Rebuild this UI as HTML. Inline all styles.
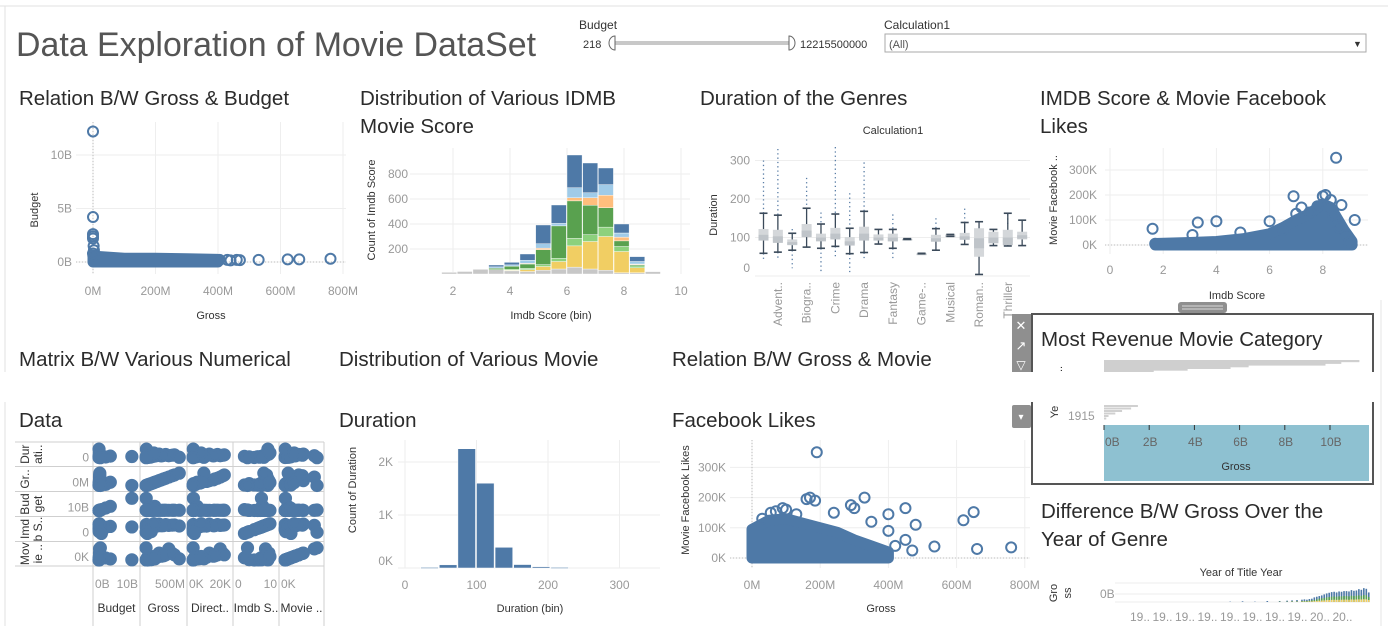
<!DOCTYPE html>
<html><head><meta charset="utf-8"><style>
html,body{margin:0;padding:0;background:#fff;}
svg{display:block;font-family:"Liberation Sans",sans-serif;}
</style></head><body>
<svg id="dash" width="1388" height="626" viewBox="0 0 1388 626" xmlns="http://www.w3.org/2000/svg">
<rect x="0" y="0" width="1388" height="626" fill="#fff"/>
<line x1="0" y1="6" x2="1388" y2="6" stroke="#e2e2e2"/>
<line x1="5" y1="6" x2="5" y2="626" stroke="#e2e2e2"/>
<text x="16" y="56" font-size="34" fill="#555" textLength="520" lengthAdjust="spacingAndGlyphs">Data Exploration of Movie DataSet</text>
<g>
<text x="579" y="29" font-size="12" fill="#333">Budget</text>
<text x="583" y="48" font-size="11" fill="#333">218</text>
<rect x="612" y="41" width="180" height="4" fill="#c8c8c8"/>
<path d="M615 36 A6 7 0 0 0 615 50 Z" fill="#fff" stroke="#666"/>
<path d="M789 36 A6 7 0 0 1 789 50 Z" fill="#fff" stroke="#666"/>
<text x="800" y="48" font-size="11" fill="#333">12215500000</text>
</g>
<g>
<text x="884" y="29" font-size="12" fill="#333">Calculation1</text>
<rect x="885" y="34" width="481" height="18" fill="#fff" stroke="#aaa"/>
<text x="889" y="48" font-size="11" fill="#555">(All)</text>
<text x="1353" y="47" font-size="9" fill="#333">▼</text>
</g>
<g id="g"></g>
</svg>
<script>
// ---------- data ----------
// Chart 1: Gross (M) vs Budget (B)
const c1Gross = [0,0,0,0,0,3,0,530,623,660,760,460,430,470,405,440,2,1];
const c1Budget = [12.2,4.2,2.6,2.4,2.2,1.1,0.8,0.2,0.25,0.25,0.3,0.2,0.2,0.18,0.2,0.15,1.5,0.6];
const c1BandGross = [0,100,200,300,400];
const c1BandTop = [0.55,0.35,0.35,0.3,0.25];
// Chart 2: IMDB histogram (bin start, width 0.55) stacked
const c2Bins = [1.6,2.15,2.7,3.25,3.8,4.35,4.9,5.45,6.0,6.55,7.1,7.65,8.2,8.75];
const c2Gray = [13,20,37,35,25,20,30,40,55,40,30,10,10,19];
const c2Yellow = [0,0,0,0,5,15,30,60,170,220,270,170,40,0];
const c2LightGreen = [0,0,0,0,8,10,15,25,60,55,75,40,15,0];
const c2Green = [0,0,0,12,25,35,120,260,300,235,155,45,10,0];
const c2Orange = [0,0,0,0,0,5,12,0,25,60,100,30,5,0];
const c2LightBlue = [0,0,0,10,10,25,35,20,80,40,85,33,20,0];
const c2Blue = [0,0,0,15,20,50,150,147,262,238,133,72,39,0];
const c2Ticks = [2,4,6,8,10];
const c2YTicks = [200,400,600,800];
// Chart 3: duration box plots
const c3Genres = ["Action","Adventure","Animation","Biography","Comedy","Crime","Documentary","Drama","Family","Fantasy","Film-Noir","Game-Show","History","Musical","Mystery","Romance","Sci-Fi","Thriller","Western"];
const c3Labels = ["","Advent..","","Biogra..","","Crime","","Drama","","Fantasy","","Game-..","","Musical","","Roman..","","Thriller",""];
const c3Low = [59,62,67,75,72,77,58,61,83,72,95,58,67,103,82,4,79,78,79];
const c3Q1 = [97,90,80,105,93,100,83,98,95,90,95,58,90,103,95,50,90,88,95];
const c3Med = [107,103,88,118,100,110,90,110,100,100,96,58,98,105,103,98,100,100,106];
const c3Q3 = [122,120,95,135,110,125,101,128,108,110,97,59,107,108,112,124,115,120,115];
const c3High = [163,158,111,176,135,161,124,168,121,121,97,59,123,108,139,141,121,163,145];
const c3OutHigh = [300,330,122,255,165,335,215,295,0,160,0,0,150,0,175,0,0,135,0];
const c3OutLow = [40,40,20,0,10,50,10,40,0,40,0,0,0,0,0,0,0,0,0];
const c3YTicks = [0,100,200,300];
// Chart 4: IMDB score vs movie FB likes (K)
const c4Imdb = [1.6,1.7,3.3,4.0,3.1,8.5,6.9,8.0,8.1,8.3,9.2,8.9,9.0,7.2,7.8,6.0,7.5,8.6,4.9,6.5,8.4,8.7,7.0];
const c4Likes = [65,5,90,95,40,349,195,195,200,180,100,40,10,150,155,95,130,70,50,60,120,160,125];
const c4BandImdb = [1.7,3,4,5,6,6.5,7,7.5,8,8.3,8.8,9.1];
const c4BandTop = [6,10,14,25,45,70,100,125,165,150,60,15];
const c4XTicks = [0,2,4,6,8];
const c4YTicks = [0,100,200,300];
// Matrix data (duration, grossM, budgetB, directorK, imdb, movieK)
const mDuration = [120,95,110,140,100,130,88,160,105,115,80,125,98,300,92,170,135,150,85,110,200,75];
const mGross = [350,60,150,600,20,250,90,450,5,200,35,520,120,10,70,300,400,650,760,30,180,1];
const mBudget = [0.2,0.03,0.1,0.25,0.01,0.15,0.05,0.3,12.2,4.2,0.02,0.2,0.06,0.01,2.5,0.18,0.22,0.26,0.3,0.9,0.12,0.5];
const mDirector = [15,0.5,5,22,0.2,10,1,18,0.3,3,0.1,20,0.4,0.2,2,12,16,23,8,1,6,0.1];
const mImdb = [7.5,6.2,6.8,8.0,5.5,7.2,6.0,8.4,6.6,7.0,4.5,7.8,3.0,8.5,6.4,8.8,7.6,8.1,7.3,1.6,9.1,2.5];
const mMovie = [110,10,40,190,2,80,20,150,5,30,1,320,8,3,60,200,120,150,35,65,100,349];
// Chart 6: duration histogram
const c6Bins = [22,48,74,100,126,152,178,204];
const c6Counts = [10,60,2250,1600,390,65,25,10];
const c6XTicks = [0,100,200,300];
const c6YTicks = [0,1000,2000];
const c6YLabels = ["0K","1K","2K"];
// Chart 7: gross (M) vs movie FB likes (K)
const c7Gross = [190,160,170,185,330,290,300,450,400,240,55,100,620,650,535,660,760,480,450,400,470,350,420,90,130,70,30];
const c7Likes = [350,195,200,190,200,175,165,165,145,150,150,160,125,152,38,30,35,110,60,90,25,120,40,165,145,155,130];
const c7BandGross = [0,50,100,150,200,250,300,350,400];
const c7BandTop = [95,125,130,115,100,85,60,40,20];
const c7XTicks = [0,200,400,600,800];
const c7YTicks = [0,100,200,300];
// Panel: most revenue
const pTopBars = [11.3,10.5,9.8,6.4,5.6,3.7,2.2];
const pLowBars = [1.5,1.2,0.8,0.5,0.2,0.1];
const pTicks = [0,2,4,6,8,10];
// Year chart
const yYears = [1960,1965,1970,1975,1980,1983,1985,1987,1989,1990,1991,1992,1993,1994,1995,1996,1997,1998,1999,2000,2001,2002,2003,2004,2005,2006,2007,2008,2009,2010,2011,2012,2013,2014,2015,2016];
const yBlue = [0.1,0.2,0.1,0.3,0.3,0.4,0.5,0.6,0.7,0.8,0.7,0.9,1.0,1.4,1.6,1.8,2.0,2.3,2.6,2.8,3.0,3.1,2.9,3.2,3.1,3.3,3.3,3.2,3.6,3.4,3.5,3.9,3.7,4.2,4.0,2.9];
const yMix = [0,0,0,0,0.1,0.1,0.2,0.2,0.3,0.3,0.3,0.4,0.5,0.6,0.8,1.0,1.1,1.2,1.4,1.5,1.6,1.7,1.6,1.7,1.7,1.8,1.8,1.7,1.9,1.8,1.9,2.0,1.9,2.1,2.0,1.5];
const yTickLabels = ["19..","19..","19..","19..","19..","19..","19..","19..","20..","20.."];

// ---------- helpers ----------
const NS = "http://www.w3.org/2000/svg";
const root = document.getElementById("g");
function mk(tag, attrs, name, inter, parent) {
  const el = document.createElementNS(NS, tag);
  for (const k in attrs) el.setAttribute(k, attrs[k]);
  
  
  (parent || root).appendChild(el);
  return el;
}
function txt(x, y, s, size, fill, name, anchor, rot, weight) {
  const a = {x: x, y: y, "font-size": size, fill: fill, "text-anchor": anchor || "start"};
  if (rot) a.transform = "rotate(" + rot + " " + x + " " + y + ")";
  if (weight) a["font-weight"] = weight;
  const t = mk("text", a, name, false);
  t.textContent = s;
  return t;
}
function lin(x1, y1, x2, y2, stroke, name, w, dash) {
  const a = {x1: x1, y1: y1, x2: x2, y2: y2, stroke: stroke, "stroke-width": w || 1};
  if (dash) a["stroke-dasharray"] = dash;
  return mk("line", a, name, false);
}
const BLUE = "#4e79a7", GRID = "#eeeeee", TICK = "#999", TITLE = "#333";
function title(x, y, s, name) { return txt(x, y, s, 20.5, "#2b2b2b", name); }

// ---------- Chart 1 ----------
title(19, 105, "Relation B/W Gross & Budget", "gross-budget-title");
(function(){
  const xs = v => 93 + v * 0.3125, ys = v => 262 - v * 10.7;
  [0,200,400,600,800].forEach(v => lin(xs(v), 122, xs(v), 274, GRID, "gridline-x"));
  [0,5,10].forEach(v => lin(76, ys(v), 346, ys(v), GRID, "gridline-y"));
  lin(xs(0), 122, xs(0), 274, "#bbb", "zero-line-x", 1, "1,2");
  lin(76, ys(0), 346, ys(0), "#bbb", "zero-line-y", 1, "1,2");
  [0,200,400,600,800].forEach(v => txt(xs(v), 295, v + "M", 12, TICK, "x-tick-label", "middle"));
  [0,5,10].forEach(v => txt(72, ys(v) + 4, v + "B", 12, TICK, "y-tick-label", "end"));
  txt(211, 319, "Gross", 11, TITLE, "x-axis-title", "middle");
  txt(38, 210, "Budget", 11, TITLE, "y-axis-title", "middle", -90);
  let d = "M" + xs(c1BandGross[0]) + " " + ys(0);
  c1BandGross.forEach((g, i) => d += " L" + xs(g) + " " + ys(c1BandTop[i]));
  d += " L" + xs(c1BandGross[c1BandGross.length - 1]) + " " + ys(0) + " Z";
  mk("path", {d: d, fill: BLUE, stroke: BLUE, "stroke-width": 11, "stroke-linejoin": "round"}, "dense-point-cluster", false);
  c1Gross.forEach((g, i) => {
    mk("circle", {cx: xs(g), cy: ys(c1Budget[i]), r: 5, fill: "none", stroke: BLUE, "stroke-width": 2}, "scatter-point", true);
  });
})();

// ---------- Chart 2 ----------
title(360, 105, "Distribution of Various IDMB", "imdb-hist-title");
title(360, 133, "Movie Score", "imdb-hist-title-line2");
(function(){
  const xs = v => 396 + v * 28.5, ys = v => 274 - v * 0.125;
  c2Ticks.forEach(v => lin(xs(v), 148, xs(v), 274, GRID, "gridline-x"));
  c2YTicks.forEach(v => lin(410, ys(v), 690, ys(v), GRID, "gridline-y"));
  c2Ticks.forEach(v => txt(xs(v), 295, String(v), 12, TICK, "x-tick-label", "middle"));
  c2YTicks.forEach(v => txt(408, ys(v) + 4, String(v), 12, TICK, "y-tick-label", "end"));
  txt(551, 319, "Imdb Score (bin)", 11, TITLE, "x-axis-title", "middle");
  txt(375, 210, "Count of Imdb Score", 11, TITLE, "y-axis-title", "middle", -90);
  const series = [[c2Gray,"#c7c7c7"],[c2Yellow,"#f1ce63"],[c2LightGreen,"#8cd17d"],[c2Green,"#59a14f"],[c2Orange,"#ffbe7d"],[c2LightBlue,"#a0cbe8"],[c2Blue,BLUE]];
  c2Bins.forEach((b, i) => {
    let acc = 0;
    series.forEach(s => {
      const v = s[0][i]; if (!v) return;
      mk("rect", {x: xs(b), y: ys(acc + v), width: 0.55 * 28.5 - 0.6, height: v * 0.125, fill: s[1], stroke: "#fff", "stroke-width": 0.4}, "hist-bar-segment", true);
      acc += v;
    });
  });
})();

// ---------- Chart 3 ----------
title(700, 105, "Duration of the Genres", "genre-duration-title");
txt(893, 134, "Calculation1", 11, TITLE, "column-header", "middle");
(function(){
  const xs = i => 763.5 + i * 14.37, ys = v => 276 - v * 0.385;
  c3YTicks.forEach(v => lin(755, ys(v), 1030, ys(v), GRID, "gridline-y"));
  c3YTicks.forEach(v => txt(750, Math.min(ys(v), 268) + 4, String(v), 12, TICK, "y-tick-label", "end"));
  txt(717, 215, "Duration", 11, TITLE, "y-axis-title", "middle", -90);
  c3Labels.forEach((l, i) => { if (l) txt(xs(i) + 4, 282, l, 12, "#999", "x-tick-label", "end", -90); });
  c3Genres.forEach((g, i) => {
    const x = xs(i);
    if (c3OutHigh[i]) lin(x, ys(c3OutHigh[i]), x, ys(c3High[i]), "#5a7ea6", "outliers-high", 1.3, "1.3,3");
    if (c3OutLow[i]) lin(x, ys(c3Low[i]), x, ys(c3OutLow[i]), "#5a7ea6", "outliers-low", 1.3, "1.3,3");
    lin(x, ys(c3High[i]), x, ys(c3Low[i]), "#3b4a5a", "whisker", 1.3);
    mk("rect", {x: x - 5, y: ys(c3Q3[i]), width: 10, height: Math.max(1.5, (c3Q3[i] - c3Q1[i]) * 0.385), fill: "#d4d7da"}, "box-" + g.toLowerCase(), true);
    mk("rect", {x: x - 5, y: ys(c3Med[i]), width: 10, height: Math.max(1.5, (c3Q3[i] - c3Med[i]) * 0.385), fill: "#bfc4c9"}, "box-upper-half", false);
    lin(x - 4, ys(c3High[i]), x + 4, ys(c3High[i]), "#3b4a5a", "whisker-cap", 1.6);
    lin(x - 4, ys(c3Low[i]), x + 4, ys(c3Low[i]), "#3b4a5a", "whisker-cap", 1.6);
  });
})();

// ---------- Chart 4 ----------
title(1040, 105, "IMDB Score & Movie Facebook", "imdb-likes-title");
title(1040, 133, "Likes", "imdb-likes-title-line2");
(function(){
  const xs = v => 1110 + v * 26.6, ys = v => 245 - v * 0.25;
  c4XTicks.forEach(v => lin(xs(v), 148, xs(v), 254, GRID, "gridline-x"));
  c4YTicks.forEach(v => lin(1105, ys(v), 1368, ys(v), GRID, "gridline-y"));
  lin(1105, ys(0), 1368, ys(0), "#bbb", "zero-line", 1, "1,2");
  c4XTicks.forEach(v => txt(xs(v), 274, String(v), 12, TICK, "x-tick-label", "middle"));
  c4YTicks.forEach(v => txt(1097, ys(v) + 4, v + "K", 12, TICK, "y-tick-label", "end"));
  txt(1237, 299, "Imdb Score", 11, TITLE, "x-axis-title", "middle");
  txt(1057, 200, "Movie Facebook ..", 11, TITLE, "y-axis-title", "middle", -90);
  let d = "M" + xs(c4BandImdb[0]) + " " + ys(0);
  c4BandImdb.forEach((g, i) => d += " L" + xs(g) + " " + ys(c4BandTop[i]));
  d += " L" + xs(c4BandImdb[c4BandImdb.length - 1]) + " " + ys(0) + " Z";
  mk("path", {d: d, fill: BLUE, stroke: BLUE, "stroke-width": 11, "stroke-linejoin": "round"}, "dense-point-cluster", false);
  c4Imdb.forEach((v, i) => mk("circle", {cx: xs(v), cy: ys(c4Likes[i]), r: 5, fill: "none", stroke: BLUE, "stroke-width": 2}, "scatter-point", true));
})();

// ---------- Matrix ----------
title(19, 366, "Matrix B/W Various Numerical", "matrix-title");
title(19, 427, "Data", "matrix-title-line2");
(function(){
  const colX = [93,140,187,233,279,324], rowY = [442,466.5,491.5,516.5,541.5,566];
  const rowVars = [[mDuration,0,330],[mGross,0,800],[mBudget,0,13],[mImdb,0,10],[mMovie,0,360]];
  const colVars = [[mBudget,0,13],[mGross,0,800],[mDirector,0,25],[mImdb,0,10],[mMovie,0,360]];
  const rowNames = [["Dur","ati.."],["Gr..",""],["Bud","get"],["Imd","b S.."],["Mov","ie .."]];
  const rowTicks = ["0","0M","10B","0","0K"];
  const colTicks = [["0B","10B"],["","500M"],["0K","20K"],["0","10"],["0K",""]];
  const colNames = ["Budget","Gross","Direct..","Imdb S..","Movie .."];
  rowY.forEach(y => lin(15, y, 324, y, "#cfcfcf", "matrix-row-line"));
  colX.forEach(x => lin(x, 442, x, 626, "#cfcfcf", "matrix-col-line"));
  rowNames.forEach((n, r) => {
    const cy = (rowY[r] + rowY[r + 1]) / 2;
    txt(29, cy, n[0], 12, TITLE, "matrix-row-label", "middle", -90);
    txt(42, cy, n[1], 12, TITLE, "matrix-row-label", "middle", -90);
    txt(89, rowY[r + 1] - 5, rowTicks[r], 12, TICK, "matrix-row-tick", "end");
  });
  colNames.forEach((n, c) => {
    txt((colX[c] + colX[c + 1]) / 2, 612, n, 12, TITLE, "matrix-col-label", "middle");
    txt(colX[c] + 2, 588, colTicks[c][0], 12, TICK, "matrix-col-tick");
    txt(colX[c + 1] - 2, 588, colTicks[c][1], 12, TICK, "matrix-col-tick", "end");
  });
  for (let r = 0; r < 5; r++) for (let c = 0; c < 5; c++) {
    const x0 = colX[c] + 6, x1 = colX[c + 1] - 6, y0 = rowY[r + 1] - 6, y1 = rowY[r] + 6;
    const cv = colVars[c], rv = rowVars[r];
    cv[0].forEach((v, i) => {
      const px = x0 + (v - cv[1]) / (cv[2] - cv[1]) * (x1 - x0);
      const py = y0 - (rv[0][i] - rv[1]) / (rv[2] - rv[1]) * (y0 - y1);
      mk("circle", {cx: px, cy: py, r: 5.5, fill: BLUE, stroke: BLUE, "stroke-width": 2.2}, "matrix-point", true);
    });
  }
})();

// ---------- Chart 6 ----------
title(339, 366, "Distribution of Various Movie", "duration-hist-title");
title(339, 427, "Duration", "duration-hist-title-line2");
(function(){
  const xs = v => 405 + v * 0.715, ys = v => 568 - v * 0.053;
  c6XTicks.forEach(v => lin(xs(v), 440, xs(v), 568, GRID, "gridline-x"));
  c6YTicks.forEach(v => lin(398, ys(v), 660, ys(v), GRID, "gridline-y"));
  c6XTicks.forEach(v => txt(xs(v), 589, String(v), 12, TICK, "x-tick-label", "middle"));
  c6YTicks.forEach((v, i) => txt(393, Math.min(ys(v), 561) + 4, c6YLabels[i], 12, TICK, "y-tick-label", "end"));
  txt(530, 612, "Duration (bin)", 11, TITLE, "x-axis-title", "middle");
  txt(356, 490, "Count of Duration", 11, TITLE, "y-axis-title", "middle", -90);
  c6Bins.forEach((b, i) => mk("rect", {x: xs(b), y: ys(c6Counts[i]), width: 26 * 0.715 - 1, height: Math.max(1, c6Counts[i] * 0.053), fill: BLUE, stroke: "#fff", "stroke-width": 0.5}, "duration-bar", true));
})();

// ---------- Chart 7 ----------
title(672, 366, "Relation B/W Gross & Movie", "gross-likes-title");
title(672, 427, "Facebook Likes", "gross-likes-title-line2");
(function(){
  const xs = v => 752 + v * 0.341, ys = v => 558 - v * 0.302;
  c7XTicks.forEach(v => lin(xs(v), 440, xs(v), 568, GRID, "gridline-x"));
  c7YTicks.forEach(v => lin(730, ys(v), 1030, ys(v), GRID, "gridline-y"));
  lin(xs(0), 440, xs(0), 568, "#bbb", "zero-line-x", 1, "1,2");
  lin(730, ys(0), 1030, ys(0), "#bbb", "zero-line-y", 1, "1,2");
  c7XTicks.forEach(v => txt(xs(v), 589, v + "M", 12, TICK, "x-tick-label", "middle"));
  c7YTicks.forEach(v => txt(726, ys(v) + 4, v + "K", 12, TICK, "y-tick-label", "end"));
  txt(881, 612, "Gross", 11, TITLE, "x-axis-title", "middle");
  txt(689, 500, "Movie Facebook Likes", 11, TITLE, "y-axis-title", "middle", -90);
  let d = "M" + xs(c7BandGross[0]) + " " + ys(0);
  c7BandGross.forEach((g, i) => d += " L" + xs(g) + " " + ys(c7BandTop[i]));
  d += " L" + xs(c7BandGross[c7BandGross.length - 1]) + " " + ys(0) + " Z";
  mk("path", {d: d, fill: BLUE, stroke: BLUE, "stroke-width": 11, "stroke-linejoin": "round"}, "dense-point-cluster", false);
  c7Gross.forEach((g, i) => mk("circle", {cx: xs(g), cy: ys(c7Likes[i]), r: 5, fill: "none", stroke: BLUE, "stroke-width": 2}, "scatter-point", true));
})();

// ---------- Most revenue panel ----------
(function(){
  mk("rect", {x: 1178, y: 302, width: 49, height: 11, rx: 3, fill: "#8f8f8f"}, "panel-drag-handle", true);
  lin(1182, 306, 1223, 306, "#d8d8d8", "handle-grip", 1);
  lin(1182, 309, 1223, 309, "#d8d8d8", "handle-grip", 1);
  mk("rect", {x: 1032, y: 314, width: 341, height: 170, fill: "#fff", stroke: "#555", "stroke-width": 2}, "most-revenue-panel", false);
  mk("rect", {x: 1012, y: 314, width: 19, height: 58, fill: "#8f8f8f"}, "panel-toolbar", false);
  txt(1021, 330, "✕", 13, "#fff", "close-button", "middle");
  txt(1021, 350, "↗", 13, "#fff", "popout-button", "middle");
  txt(1021, 369, "▽", 12, "#fff", "filter-button", "middle");
  title(1041, 346, "Most Revenue Movie Category", "most-revenue-title");
  const xs = v => 1104 + v * 22.6;
  pTopBars.forEach((v, i) => mk("rect", {x: 1104, y: 360 + i * 1.7, width: v * 22.6, height: 2.2, fill: "#cfcfcf"}, "revenue-bar", true));
  txt(1062, 372, "a..", 11, TITLE, "y-axis-title", "middle", -90);
  // white seam band
  mk("rect", {x: 0, y: 372, width: 1388, height: 30, fill: "#fff"}, "seam-band", false);
  pLowBars.forEach((v, i) => mk("rect", {x: 1104, y: 405 + i * 2.5, width: v * 22.6, height: 2, fill: "#d0d0d0"}, "revenue-bar-low", true));
  txt(1058, 412, "Ye", 11, TITLE, "y-axis-title", "middle", -90);
  txt(1068, 420, "1915", 12, TICK, "y-tick-label");
  mk("rect", {x: 1012, y: 405, width: 19, height: 23, rx: 2, fill: "#8f8f8f"}, "panel-menu-button", true);
  txt(1021, 420, "▾", 10, "#fff", "panel-menu-arrow", "middle");
  mk("rect", {x: 1104, y: 425, width: 265, height: 56, fill: "#8ec1d1"}, "gross-axis-highlight", false);
  pTicks.forEach(v => { lin(xs(v), 425, xs(v), 430, "#333", "x-tick", 1); txt(xs(v) + 1, 446, v + "B", 12, "#666", "x-tick-label", v ? "middle" : "start"); });
  txt(1236, 470, "Gross", 11, TITLE, "x-axis-title", "middle");
})();
lin(1381, 300, 1381, 626, "#e6e6e6", "right-border");

// ---------- Year chart ----------
title(1041, 518, "Difference B/W Gross Over the", "year-gross-title");
title(1041, 546, "Year of Genre", "year-gross-title-line2");
(function(){
  const xs = y => 1118 + (y - 1915) * 2.475, ys = v => 602 - v * 3.3;
  txt(1241, 576, "Year of Title Year", 11, TITLE, "column-header", "middle");
  txt(1057, 593, "Gro", 11, TITLE, "y-axis-title", "middle", -90);
  txt(1071, 593, "ss", 11, TITLE, "y-axis-title", "middle", -90);
  txt(1100, 598, "0B", 12, TICK, "y-tick-label");
  lin(1115, 583, 1370, 583, GRID, "gridline");
  lin(1115, 594, 1370, 594, GRID, "gridline");
  lin(1115, 602, 1370, 602, GRID, "gridline");
  yYears.forEach((y, i) => {
    mk("rect", {x: xs(y), y: ys(yBlue[i]), width: 1.6, height: yBlue[i] * 3.3, fill: BLUE}, "year-bar", true);
    if (yMix[i]) {
      mk("rect", {x: xs(y), y: ys(yMix[i]), width: 1.6, height: yMix[i] * 3.3, fill: "#59a14f"}, "year-bar-segment", false);
      mk("rect", {x: xs(y), y: ys(yMix[i] * 0.4), width: 1.6, height: yMix[i] * 0.4 * 3.3, fill: "#f1ce63"}, "year-bar-segment", false);
    }
  });
  yTickLabels.forEach((l, i) => txt(1140 + i * 22.5, 621, l, 12, TICK, "x-tick-label", "middle"));
})();
</script>
</body></html>
